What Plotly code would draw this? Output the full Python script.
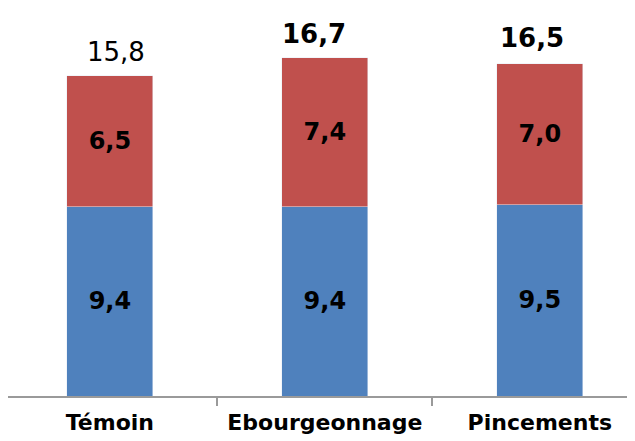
import plotly.graph_objects as go

categories = ["Témoin", "Ebourgeonnage", "Pincements"]
blue_values = [9.4, 9.4, 9.5]
red_values = [6.5, 7.4, 7.0]
totals = [15.8, 16.7, 16.5]

# styling of the total labels (weight and small horizontal nudge, in px)
total_bold = [False, True, True]
total_xshift = [6, -11, -8]
BLUE = "#4F81BD"
RED = "#C0504D"
FONT = "DejaVu Sans"

fig = go.Figure()
for vals, col in ((blue_values, BLUE), (red_values, RED)):
    fig.add_trace(go.Bar(
        x=categories, y=vals, marker_color=col, width=0.4,
        texttemplate="<b>%{y:.1f}</b>", textposition="inside", insidetextanchor="middle",
        textfont=dict(family=FONT, size=24, color="black"), textangle=0,
    ))

for c, t, b, xs in zip(categories, totals, total_bold, total_xshift):
    s = f"{t:.1f}".replace(".", ",")
    fig.add_annotation(
        x=c, y=t, text=f"<b>{s}</b>" if b else s, showarrow=False,
        yanchor="middle", yshift=26, xshift=xs,
        font=dict(family=FONT, size=26, color="black"),
    )

fig.update_layout(
    barmode="stack",
    separators=", ",
    width=635, height=441,
    margin=dict(l=0, r=0, t=0, b=53, autoexpand=False),
    plot_bgcolor="white", paper_bgcolor="white",
    showlegend=False,
    uniformtext=dict(mode=False),
    xaxis=dict(
        type="category",
        range=[-0.474, 2.48],
        automargin=False,
        showline=True, linecolor="#9a9a9a", linewidth=1.5,
        ticks="outside", tickson="boundaries", ticklen=8, tickcolor="#9a9a9a", tickwidth=1.5,
        ticklabelstandoff=6,
        tickfont=dict(family=FONT, size=22, color="black"),
        showgrid=False,
    ),
    yaxis=dict(range=[0, 19.27], visible=False, showgrid=False, automargin=False),
)
fig.update_xaxes(ticktext=[f"<b>{c}</b>" for c in categories], tickvals=categories)

fig.write_html("out.html")
